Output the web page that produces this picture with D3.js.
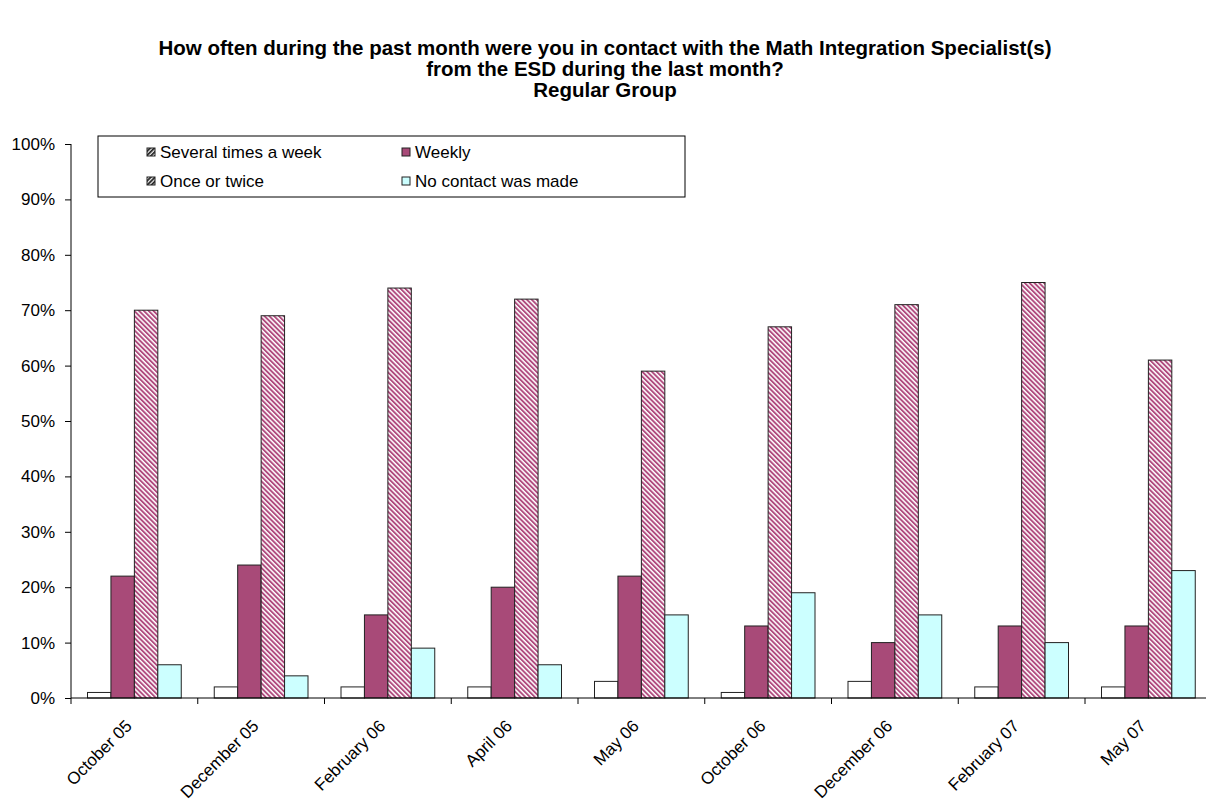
<!DOCTYPE html>
<html><head><meta charset="utf-8">
<script src="https://cdn.jsdelivr.net/npm/d3@7"></script>
<style>body{margin:0;background:#fff;font-family:Arial,"Liberation Sans",sans-serif}</style>
</head><body><svg id="c" width="1206" height="803"></svg>
<script>
const categories = ["October 05","December 05","February 06","April 06","May 06","October 06","December 06","February 07","May 07"];
const seriesNames = ["Several times a week","Weekly","Once or twice","No contact was made"];
const severalTimes = [1,2,2,2,3,1,3,2,2];
const weekly = [22,24,15,20,22,13,10,13,13];
const onceOrTwice = [70,69,74,72,59,67,71,75,61];
const noContact = [6,4,9,6,15,19,15,10,23];
const yTicks = [0,10,20,30,40,50,60,70,80,90,100];
const titleLines = ["How often during the past month were you in contact with the Math Integration Specialist(s)","from the ESD during the last month?","Regular Group"];

const series = [severalTimes, weekly, onceOrTwice, noContact];
const svg = d3.select("#c");
const defs = svg.append("defs");
const pat = defs.append("pattern").attr("id","stripe").attr("patternUnits","userSpaceOnUse")
  .attr("width",3.4).attr("height",3.4).attr("patternTransform","rotate(-45)");
pat.append("rect").attr("width",3.4).attr("height",3.4).attr("fill","#fff");
pat.append("rect").attr("width",1.9).attr("height",3.4).attr("fill","#b04a7e");
const pat2 = defs.append("pattern").attr("id","dark").attr("patternUnits","userSpaceOnUse")
  .attr("width",3).attr("height",3).attr("patternTransform","rotate(45)");
pat2.append("rect").attr("width",3).attr("height",3).attr("fill","#fff");
pat2.append("rect").attr("width",1.8).attr("height",3).attr("fill","#222");
const fills = ["#ffffff","#a84a78","url(#stripe)","#ccffff"];
const legendFills = ["url(#dark)","#a84a78","url(#dark)","#ccffff"];

const x0 = 71, x1 = 71 + 9*126.75, yTop = 144, yBot = 698;
const x = d3.scaleBand().domain(categories).range([x0,x1]).paddingInner(0).paddingOuter(0);
const y = d3.scaleLinear().domain([0,100]).range([yBot,yTop]);
const inner = d3.scaleBand().domain(d3.range(4)).range([16.5, 126.75-16.5]);

// title
svg.append("g").selectAll("text").data(titleLines).join("text")
  .attr("x",605).attr("y",(d,i)=>55+i*21).attr("text-anchor","middle")
  .attr("font-size","20.5px").attr("font-weight","bold").attr("fill","#000").text(d=>d);

// y axis
const ya = svg.append("g").attr("transform",`translate(${x0},0)`)
  .call(d3.axisLeft(y).tickValues(yTicks).tickFormat(d=>d+"%").tickSize(6).tickPadding(10));
ya.select(".domain").attr("stroke","#000").attr("d",`M-0,${yTop}V${yBot}`);
ya.selectAll("text").attr("font-size","17px").attr("font-family","Arial,'Liberation Sans',sans-serif").attr("fill","#000");

// bars
const g = svg.append("g");
categories.forEach((c,ci)=>{
  series.forEach((s,si)=>{
    g.append("rect").attr("x",x(c)+inner(si)).attr("width",inner.bandwidth())
      .attr("y",y(s[ci])).attr("height",yBot-y(s[ci]))
      .attr("fill",fills[si]).attr("stroke","#222").attr("stroke-width",1);
  });
});

// x axis
const xa = svg.append("g").attr("transform",`translate(0,${yBot})`);
xa.append("line").attr("x1",x0).attr("x2",1206).attr("y1",0).attr("y2",0).attr("stroke","#000");
const tickPos = categories.map(c=>x(c));
xa.selectAll("line.t").data(tickPos).join("line").attr("class","t")
  .attr("x1",d=>d).attr("x2",d=>d).attr("y1",0).attr("y2",6).attr("stroke","#000");
xa.selectAll("text").data(categories).join("text")
  .attr("transform",d=>`translate(${x(d)+x.bandwidth()/2-1.5},${29}) rotate(-45)`)
  .attr("text-anchor","end").attr("font-size","17px").attr("fill","#000").text(d=>d);

// legend
const lg = svg.append("g");
lg.append("rect").attr("x",98).attr("y",136).attr("width",587).attr("height",61)
  .attr("fill","#fff").attr("stroke","#000");
const lpos = [[146,152],[401,152],[146,181],[401,181]];
seriesNames.forEach((n,i)=>{
  lg.append("rect").attr("x",lpos[i][0]+1).attr("y",lpos[i][1]-4).attr("width",8).attr("height",8)
    .attr("fill",legendFills[i]).attr("stroke","#222");
  lg.append("text").attr("x",lpos[i][0]+14).attr("y",lpos[i][1]+6).attr("font-size","17px").attr("fill","#000").text(n);
});
</script></body></html>
